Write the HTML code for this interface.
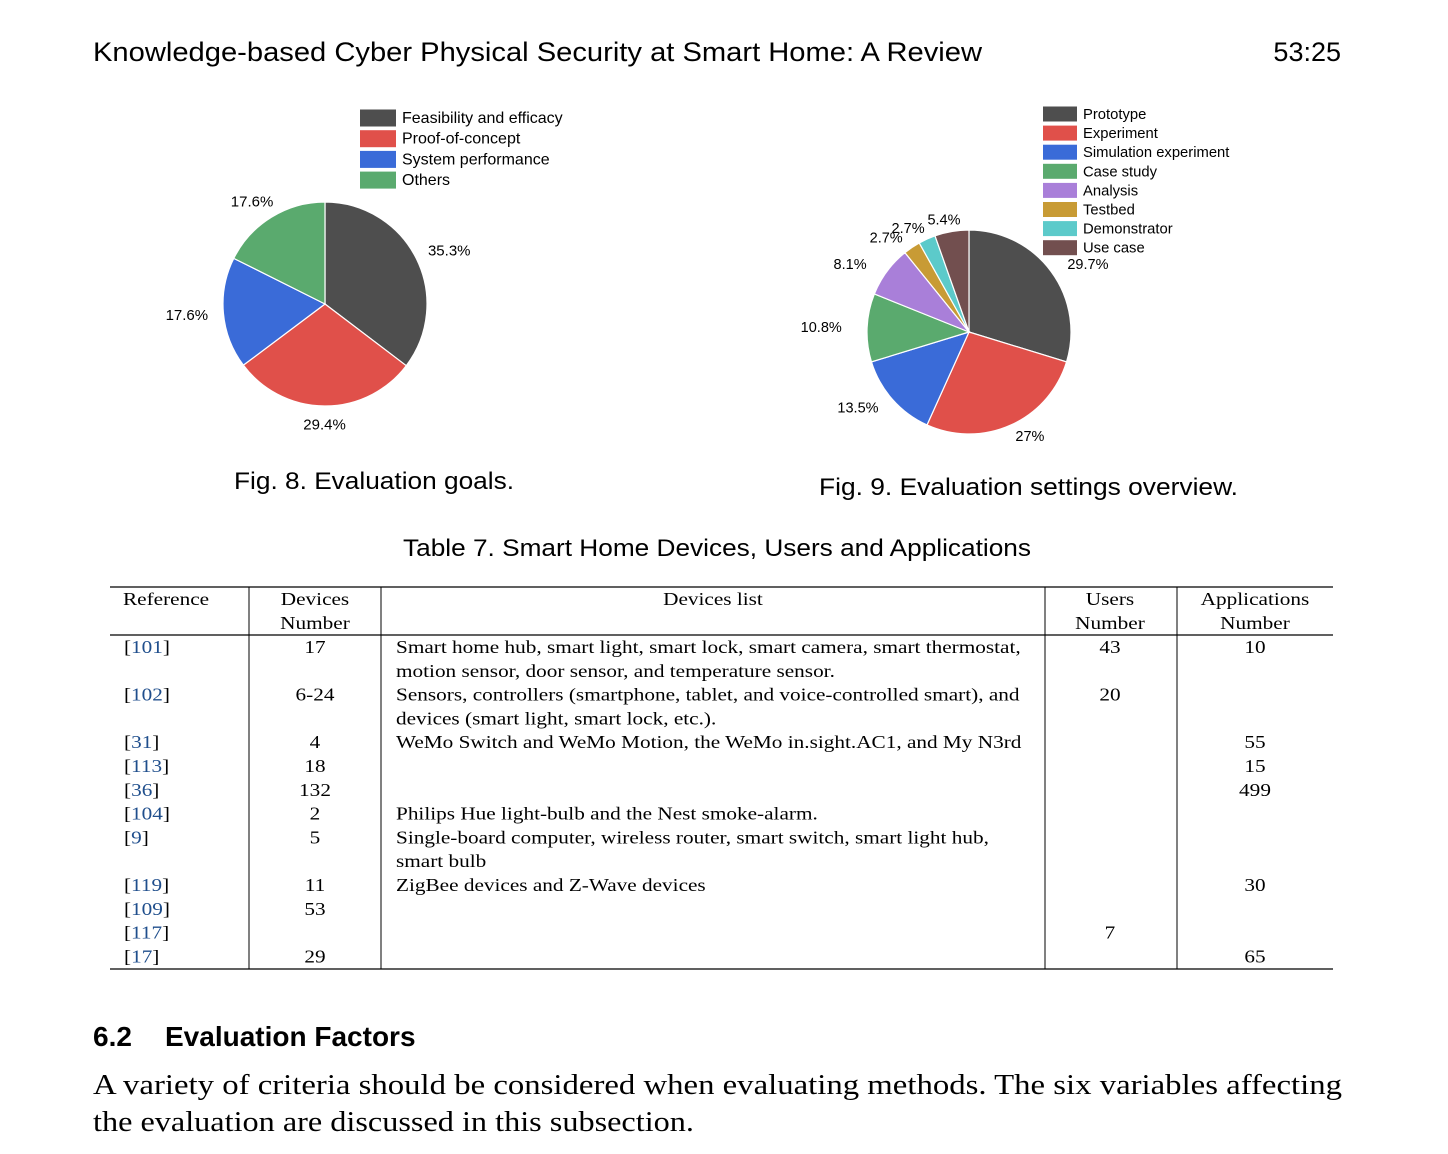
<!DOCTYPE html>
<html><head><meta charset="utf-8"><style>
html,body{margin:0;padding:0;background:#fff;}
svg{display:block;}
.sans{font-family:"Liberation Sans",sans-serif;}
.serif{font-family:"Liberation Serif",serif;}
</style></head><body>
<svg id="page" width="1448" height="1154" viewBox="0 0 1448 1154" xmlns="http://www.w3.org/2000/svg">
<text class="sans" x="93" y="61" font-size="27" textLength="889" lengthAdjust="spacingAndGlyphs">Knowledge-based Cyber Physical Security at Smart Home: A Review</text>
<text class="sans" x="1341" y="61" font-size="27" text-anchor="end">53:25</text>
<g id="pie1"></g>
<g id="pie2"></g>
<text class="sans" x="234" y="489" font-size="24" textLength="280" lengthAdjust="spacingAndGlyphs">Fig. 8.  Evaluation goals.</text>
<text class="sans" x="819" y="495" font-size="24" textLength="419" lengthAdjust="spacingAndGlyphs">Fig. 9.  Evaluation settings overview.</text>
<text class="sans" x="403" y="556" font-size="24" textLength="628" lengthAdjust="spacingAndGlyphs">Table 7.  Smart Home Devices, Users and Applications</text>
<g id="table" class="serif" font-size="18">
<line x1="110" x2="1333" y1="587" y2="587" stroke="#000" stroke-width="1.2"/>
<line x1="110" x2="1333" y1="635" y2="635" stroke="#000" stroke-width="1.2"/>
<line x1="110" x2="1333" y1="969" y2="969" stroke="#000" stroke-width="1.2"/>
<line x1="249" x2="249" y1="587" y2="969" stroke="#000"/>
<line x1="381" x2="381" y1="587" y2="969" stroke="#000"/>
<line x1="1045" x2="1045" y1="587" y2="969" stroke="#000"/>
<line x1="1177" x2="1177" y1="587" y2="969" stroke="#000"/>
<text class="wide" x="123" y="605">Reference</text>
<text class="wide" x="315" y="605" text-anchor="middle">Devices</text>
<text class="wide" x="315" y="629" text-anchor="middle">Number</text>
<text class="wide" x="713" y="605" text-anchor="middle">Devices list</text>
<text class="wide" x="1110" y="605" text-anchor="middle">Users</text>
<text class="wide" x="1110" y="629" text-anchor="middle">Number</text>
<text class="wide" x="1255" y="605" text-anchor="middle">Applications</text>
<text class="wide" x="1255" y="629" text-anchor="middle">Number</text>
</g>
<text class="sans" x="93" y="1046" font-size="28" font-weight="bold">6.2<tspan x="165">Evaluation Factors</tspan></text>
<text class="serif" x="93" y="1094" font-size="29" textLength="1249" lengthAdjust="spacingAndGlyphs">A variety of criteria should be considered when evaluating methods. The six variables affecting</text>
<text class="serif" x="93" y="1131" font-size="29" textLength="601" lengthAdjust="spacingAndGlyphs">the evaluation are discussed in this subsection.</text>
</svg>
<script>
const NS="http://www.w3.org/2000/svg";
// Pie 1 data
const goalCategories=["Feasibility and efficacy","Proof-of-concept","System performance","Others"];
const goalValues=[35.3,29.4,17.6,17.6];
const goalLabels=["35.3%","29.4%","17.6%","17.6%"];
// Pie 2 data
const settingCategories=["Prototype","Experiment","Simulation experiment","Case study","Analysis","Testbed","Demonstrator","Use case"];
const settingValues=[29.7,27,13.5,10.8,8.1,2.7,2.7,5.4];
const settingLabels=["29.7%","27%","13.5%","10.8%","8.1%","2.7%","2.7%","5.4%"];
const COLORS=["#4e4e4e","#e0504a","#3a6bd8","#5aaa6e","#a97fd9","#c89b35","#5ccaca","#724f4f"];
// Table data
const tableRefs=["101","102","31","113","36","104","9","119","109","117","17"];
const tableDevices=["17","6-24","4","18","132","2","5","11","53","","29"];
const tableLists=[["Smart home hub, smart light, smart lock, smart camera, smart thermostat,","motion sensor, door sensor, and temperature sensor."],["Sensors, controllers (smartphone, tablet, and voice-controlled smart), and","devices (smart light, smart lock, etc.)."],["WeMo Switch and WeMo Motion, the WeMo in.sight.AC1, and My N3rd"],[],[],["Philips Hue light-bulb and the Nest smoke-alarm."],["Single-board computer, wireless router, smart switch, smart light hub,","smart bulb"],["ZigBee devices and Z-Wave devices"],[],[],[]];
const tableUsers=["43","20","","","","","","","","7",""];
const tableApps=["10","","55","15","499","","","30","","","65"];

function mk(tag,attrs,parent,text){const e=document.createElementNS(NS,tag);for(const k in attrs)e.setAttribute(k,attrs[k]);if(text!==undefined)e.textContent=text;parent.appendChild(e);return e;}

function drawPie(g,vals,labels,cx,cy,r,fx,fy,fs){
  const total=vals.reduce((a,b)=>a+b,0);let a0=0;
  vals.forEach((v,i)=>{
    const a1=a0+v/total*2*Math.PI;
    const x0=cx+r*Math.sin(a0),y0=cy-r*Math.cos(a0),x1=cx+r*Math.sin(a1),y1=cy-r*Math.cos(a1);
    const large=(a1-a0)>Math.PI?1:0;
    const p=mk("path",{d:`M${cx},${cy} L${x0},${y0} A${r},${r} 0 ${large} 1 ${x1},${y1} Z`,fill:COLORS[i],stroke:"#fff","stroke-width":1.2},g);
    
    
    const m=(a0+a1)/2;
    const t=mk("text",{x:cx+fx*r*Math.sin(m),y:cy-fy*r*Math.cos(m)+5,"text-anchor":"middle","font-size":fs,class:"sans"},g,labels[i]);
    
    
    a0=a1;
  });
}
function drawLegend(g,cats,x,y,step,bw,bh,fs){
  cats.forEach((c,i)=>{
    const gy=y+i*step;
    const b=mk("rect",{x:x,y:gy-bh/2,width:bw,height:bh,fill:COLORS[i]},g);
    
    
    const t=mk("text",{x:x+bw+6,y:gy+5,"font-size":fs,class:"sans"},g,c);
    
    
  });
}
const g1=document.getElementById("pie1"),g2=document.getElementById("pie2");
drawPie(g1,goalValues,goalLabels,325,304,102,1.36,1.18,15);
drawLegend(g1,goalCategories,360,118,20.7,36,17,16);
drawPie(g2,settingValues,settingLabels,969,332,102,1.45,1.12,14.5);
drawLegend(g2,settingCategories,1043,114,19.1,34,15,14.8);

const tb=document.getElementById("table");
let y=653;const lh=23.8;
tableRefs.forEach((ref,i)=>{
  const t=mk("text",{x:124,y:y,class:"wide"},tb);
  
  
  mk("tspan",{},t,"[");mk("tspan",{fill:"#1f4e8c"},t,ref);mk("tspan",{},t,"]");
  const d=mk("text",{x:315,y:y,"text-anchor":"middle",class:"wide"},tb,tableDevices[i]);
  
  
  tableLists[i].forEach((ln,j)=>{
    const l=mk("text",{x:396,y:y+j*lh,class:"wide"},tb,ln);
    
    
  });
  const u=mk("text",{x:1110,y:y,"text-anchor":"middle",class:"wide"},tb,tableUsers[i]);
  
  
  const a=mk("text",{x:1255,y:y,"text-anchor":"middle",class:"wide"},tb,tableApps[i]);
  
  
  y+=Math.max(1,tableLists[i].length)*lh;
});
// widen serif table text to match Libertine widths
tb.querySelectorAll("text.wide").forEach(t=>{
  if(!t.textContent)return;
  const w=t.getComputedTextLength();
  t.setAttribute("textLength",(w*1.18).toFixed(1));
  t.setAttribute("lengthAdjust","spacingAndGlyphs");
});
</script>
</body></html>
